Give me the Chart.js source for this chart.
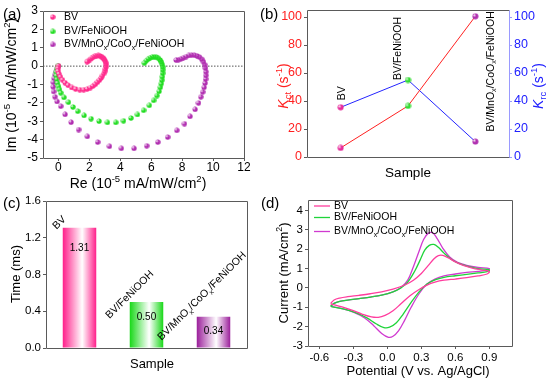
<!DOCTYPE html>
<html>
<head>
<meta charset="utf-8">
<script src="https://cdn.jsdelivr.net/npm/chart.js@4.4.1/dist/chart.umd.min.js"></script>
<style>
  body{margin:0;background:#fff;}
  #wrap{position:relative;width:550px;height:382px;overflow:hidden;font-family:"Liberation Sans",Arial,sans-serif;}
  canvas{position:absolute;}
  .lab{position:absolute;font-size:15px;line-height:15px;color:#000;}
</style>
</head>
<body>
<div id="wrap">
  <canvas id="cA" width="275" height="191" style="left:0;top:0"></canvas>
  <canvas id="cB" width="275" height="191" style="left:275px;top:0"></canvas>
  <canvas id="cC" width="275" height="191" style="left:0;top:191px"></canvas>
  <canvas id="cD" width="275" height="191" style="left:275px;top:191px"></canvas>
  <div class="lab" style="left:3px;top:6px">(a)</div>
  <div class="lab" style="left:260px;top:6px">(b)</div>
  <div class="lab" style="left:3px;top:195px">(c)</div>
  <div class="lab" style="left:261px;top:195px">(d)</div>
</div>
<script>
// ---- data ----
// (a) Nyquist-type plots, [Re, Im] in 10^-5 mA/mW/cm2
var nyqBV=[[0.00,0.02],[-0.05,-0.12],[-0.04,-0.27],[0.02,-0.42],[0.12,-0.58],[0.25,-0.74],[0.42,-0.9],[0.62,-1.04],[0.85,-1.16],[1.1,-1.24],[1.37,-1.28],[1.62,-1.28],[1.85,-1.24],[2.05,-1.17],[2.22,-1.08],[2.38,-0.98],[2.52,-0.87],[2.64,-0.76],[2.75,-0.64],[2.84,-0.52],[2.92,-0.4],[2.98,-0.28],[3.03,-0.16],[3.06,-0.04],[3.07,0.08],[3.05,0.19],[3.01,0.29],[2.95,0.38],[2.87,0.46],[2.78,0.52],[2.68,0.56],[2.57,0.58],[2.46,0.57],[2.35,0.54],[2.24,0.49],[2.13,0.43],[2.02,0.36],[1.92,0.3],[1.84,0.25]]
var nyqFe=[[-0.05,0.02],[-0.12,-0.15],[-0.15,-0.33],[-0.15,-0.52],[-0.12,-0.72],[-0.07,-0.92],[0.0,-1.1],[0.06,-1.27],[0.14,-1.45],[0.35,-1.7],[0.64,-1.96],[0.93,-2.22],[1.24,-2.45],[1.65,-2.68],[2.1,-2.86],[2.62,-2.99],[3.16,-3.06],[3.7,-3.06],[4.2,-2.97],[4.68,-2.82],[5.1,-2.63],[5.5,-2.4],[5.87,-2.13],[6.15,-1.86],[6.36,-1.6],[6.5,-1.37],[6.58,-1.15],[6.64,-0.95],[6.68,-0.76],[6.71,-0.57],[6.73,-0.38],[6.74,-0.2],[6.73,-0.04],[6.7,0.1],[6.65,0.23],[6.57,0.34],[6.46,0.43],[6.33,0.49],[6.19,0.51],[6.05,0.5],[5.91,0.45],[5.78,0.38],[5.66,0.29],[5.55,0.18]]
var nyqMn=[[-0.02,0.0],[-0.08,-0.12],[-0.16,-0.28],[-0.24,-0.46],[-0.3,-0.66],[-0.34,-0.88],[-0.35,-1.12],[-0.32,-1.38],[-0.24,-1.66],[-0.1,-1.92],[0.14,-2.18],[0.42,-2.62],[0.81,-3.05],[1.3,-3.45],[1.86,-3.82],[2.53,-4.13],[3.29,-4.36],[4.06,-4.47],[4.88,-4.47],[5.7,-4.33],[6.42,-4.13],[7.06,-3.86],[7.65,-3.49],[8.14,-3.13],[8.5,-2.73],[8.83,-2.35],[9.05,-2.0],[9.2,-1.67],[9.32,-1.4],[9.41,-1.15],[9.47,-0.92],[9.51,-0.7],[9.53,-0.5],[9.53,-0.3],[9.5,-0.1],[9.45,0.08],[9.37,0.24],[9.26,0.38],[9.12,0.49],[8.96,0.56],[8.78,0.6],[8.6,0.61],[8.42,0.58],[8.24,0.52],[8.06,0.45],[7.9,0.39],[7.74,0.35],[7.6,0.34]]
var ticksAx=[0,2,4,6,8,10,12]
var ticksAy=[-5,-4,-3,-2,-1,0,1,2,3]

// (b) rate constants, s^-1
var samples=['BV','BV/FeNiOOH','BV/MnO_{x}/CoO_{x}/FeNiOOH']
var kct=[6.5,36.5,100.5]
var krc=[35.5,55,11]
var ticksB=[0,20,40,60,80,100]

// (c) lifetime, ms
var tau=[1.31,0.50,0.34]
var ticksC=[0,0.4,0.8,1.2,1.6]

// (d) CV, [V, mA/cm2]
var cvBV=[[-0.5,-0.8],[-0.47,-0.62],[-0.42,-0.52],[-0.35,-0.45],[-0.25,-0.38],[-0.15,-0.3],[-0.05,-0.2],[0.05,-0.06],[0.15,0.14],[0.23,0.4],[0.3,0.75],[0.36,1.15],[0.41,1.5],[0.45,1.67],[0.49,1.68],[0.54,1.55],[0.6,1.35],[0.67,1.17],[0.75,1.03],[0.83,0.93],[0.9,0.85],[0.88,0.72],[0.8,0.62],[0.7,0.53],[0.6,0.46],[0.5,0.4],[0.42,0.3],[0.35,0.15],[0.28,-0.08],[0.2,-0.4],[0.12,-0.82],[0.05,-1.18],[-0.02,-1.42],[-0.08,-1.52],[-0.14,-1.5],[-0.22,-1.36],[-0.3,-1.17],[-0.4,-0.98],[-0.5,-0.82]]
var cvFe=[[-0.5,-0.95],[-0.47,-0.8],[-0.42,-0.7],[-0.35,-0.63],[-0.25,-0.55],[-0.15,-0.47],[-0.05,-0.37],[0.05,-0.2],[0.12,0.0],[0.18,0.3],[0.24,0.85],[0.29,1.45],[0.33,1.95],[0.37,2.2],[0.41,2.25],[0.45,2.1],[0.5,1.8],[0.56,1.5],[0.63,1.27],[0.71,1.12],[0.8,1.0],[0.9,0.93],[0.88,0.84],[0.8,0.78],[0.7,0.7],[0.6,0.63],[0.5,0.55],[0.42,0.42],[0.35,0.2],[0.28,-0.2],[0.21,-0.75],[0.14,-1.35],[0.08,-1.8],[0.02,-2.03],[-0.03,-2.05],[-0.1,-1.85],[-0.18,-1.55],[-0.28,-1.28],[-0.38,-1.1],[-0.5,-0.95]]
var cvMn=[[-0.5,-0.95],[-0.47,-0.8],[-0.42,-0.7],[-0.35,-0.63],[-0.25,-0.55],[-0.15,-0.47],[-0.05,-0.37],[0.05,-0.2],[0.12,0.02],[0.18,0.4],[0.23,1.1],[0.28,1.9],[0.32,2.5],[0.36,2.82],[0.4,2.85],[0.44,2.55],[0.49,2.05],[0.55,1.6],[0.62,1.32],[0.7,1.17],[0.8,1.06],[0.9,1.0],[0.88,0.92],[0.8,0.86],[0.7,0.8],[0.6,0.72],[0.5,0.62],[0.42,0.46],[0.35,0.2],[0.28,-0.3],[0.21,-1.0],[0.15,-1.7],[0.1,-2.2],[0.05,-2.5],[0.01,-2.55],[-0.05,-2.35],[-0.12,-1.95],[-0.2,-1.55],[-0.3,-1.25],[-0.4,-1.07],[-0.5,-0.95]]
var ticksDx=[-0.6,-0.3,0,0.3,0.6,0.9]
var ticksDy=[-3,-2,-1,0,1,2,3,4]

var seriesNames=['BV','BV/FeNiOOH','BV/MnO_{x}/CoO_{x}/FeNiOOH']

// ---- helpers ----
var FONT='"Liberation Sans", Arial, sans-serif'
var AX='#5a5a5a'
Chart.defaults.font.family=FONT
Chart.defaults.color='#000'
Chart.defaults.animation=false
Chart.defaults.plugins.legend.display=false
Chart.defaults.plugins.tooltip.enabled=false

//text with _{sub} ^{sup} *{italic}
function rich(ctx,str,x,y,size,o){
    o=o||{}
    var ps=[],re=/([_^*])\{([^}]*)\}/g,last=0,m
    while((m=re.exec(str))){
        if(m.index>last) ps.push({t:str.slice(last,m.index),k:''})
        ps.push({t:m[2],k:m[1]})
        last=re.lastIndex
    }
    if(last<str.length) ps.push({t:str.slice(last),k:''})
    var fontOf=function(p){
        var s=(p.k=='_'||p.k=='^')?size*0.68:size
        return (p.k=='*'?'italic ':'')+s+'px '+FONT
    }
    var w=0
    ps.forEach(function(p){ctx.font=fontOf(p);p.w=ctx.measureText(p.t).width;w+=p.w})
    ctx.save()
    ctx.translate(x,y)
    if(o.rot) ctx.rotate(o.rot)
    ctx.fillStyle=o.color||'#000'
    ctx.textBaseline=o.baseline||'middle'
    ctx.textAlign='left'
    var cx=o.align=='left'?0:(o.align=='right'?-w:-w/2)
    ps.forEach(function(p){
        ctx.font=fontOf(p)
        var dy=p.k=='_'?size*0.3:(p.k=='^'?-size*0.36:0)
        ctx.fillText(p.t,cx,dy)
        cx+=p.w
    })
    ctx.restore()
}

//small shaded ball used as point style
function ball(col,r){
    var c=document.createElement('canvas')
    c.width=c.height=2*r+1
    var g=c.getContext('2d')
    var gr=g.createRadialGradient(r*0.7,r*0.7,0.2,r+0.5,r+0.5,r+0.5)
    gr.addColorStop(0,'#ffffff')
    gr.addColorStop(0.45,col)
    gr.addColorStop(1,col)
    g.fillStyle=gr
    g.beginPath()
    g.arc(r+0.5,r+0.5,r,0,Math.PI*2)
    g.fill()
    return c
}

function frame(col,rightCol){
    return {id:'frame',afterDraw:function(ch){
        var a=ch.chartArea,c=ch.ctx
        var l=Math.round(a.left)+0.5,r=Math.round(a.right)+0.5,t=Math.round(a.top)+0.5,b=Math.round(a.bottom)+0.5
        c.save()
        c.lineWidth=1
        c.strokeStyle=col
        c.beginPath()
        c.moveTo(r,b);c.lineTo(l,b);c.lineTo(l,t);c.lineTo(r,t)
        c.stroke()
        c.strokeStyle=rightCol||col
        c.beginPath()
        c.moveTo(r,t);c.lineTo(r,b)
        c.stroke()
        c.restore()
    }}
}

function titles(list){
    return {id:'titles',afterDraw:function(ch){
        list.forEach(function(t){rich(ch.ctx,t.s,t.x,t.y,t.size,t)})
    }}
}

//x tick labels written out under the axis
function xLabels(vals,size,gap){
    return {id:'xLabels',afterDraw:function(ch){
        var xs=ch.scales.x,y=ch.chartArea.bottom+gap
        vals.forEach(function(v){rich(ch.ctx,String(v),xs.getPixelForValue(v),y,size)})
    }}
}

function linAxis(o){
    return {
        type:'linear',position:o.pos,min:o.min,max:o.max,
        border:{display:false},
        grid:{display:true,drawOnChartArea:false,tickLength:3,color:o.tickCol||AX},
        ticks:{display:!o.own,font:{size:o.size},color:o.color||'#000',padding:2,maxRotation:0,minRotation:0,autoSkip:false,
            callback:o.fmt||function(v){return String(v)}},
        afterBuildTicks:function(s){s.ticks=o.ticks.map(function(v){return {value:v}})},
        afterFit:function(s){if(o.w!=null) s.width=o.w;if(o.h!=null) s.height=o.h}
    }
}

var pink='#ff2a8c',green='#22dd22',purple='#b02db0'

// ---- (a) ----
var ballsA=[ball(pink,2.6),ball(green,2.6),ball(purple,2.6)]
function xy(arr){return arr.map(function(p){return {x:p[0],y:p[1]}})}

new Chart(document.getElementById('cA'),{
    type:'scatter',
    data:{datasets:[
        {data:xy(nyqBV),pointStyle:ballsA[0],pointRadius:2.6},
        {data:xy(nyqFe),pointStyle:ballsA[1],pointRadius:2.6},
        {data:xy(nyqMn),pointStyle:ballsA[2],pointRadius:2.6},
        {data:[{x:-1,y:0},{x:12,y:0}],showLine:true,pointRadius:0,borderColor:'#555',borderWidth:1,borderDash:[1.5,1.5]}
    ]},
    options:{
        responsive:false,devicePixelRatio:1,
        layout:{padding:{left:0,right:31,top:11,bottom:0}},
        scales:{
            x:linAxis({pos:'bottom',min:-1,max:12,ticks:ticksAx,own:true,size:12,h:33}),
            y:linAxis({pos:'left',min:-5,max:3,ticks:ticksAy,size:12,w:43})
        }
    },
    plugins:[frame(AX),xLabels(ticksAx,12,10),titles([
        {s:'Re (10^{-5} mA/mW/cm^{2})',x:138,y:184,size:14},
        {s:'Im (10^{-5} mA/mW/cm^{2})',x:12,y:85,size:14,rot:-Math.PI/2}
    ]),{id:'legA',afterDraw:function(ch){
        var c=ch.ctx,rows=[17,31.5,44.5]
        seriesNames.forEach(function(n,i){
            c.drawImage(ballsA[i],52.7-2.6-0.5,rows[i]-2.6-0.5)
            rich(c,n,64,rows[i],10.5,{align:'left'})
        })
    }}]
})

// ---- (b) ----
var ballsB=[ball('#e62a9a',3),ball('#33dd33',3),ball('#b030b0',3)]
new Chart(document.getElementById('cB'),{
    type:'line',
    data:{labels:samples,datasets:[
        {data:kct,yAxisID:'y',borderColor:'#ff2020',borderWidth:1,pointStyle:ballsB,pointRadius:3},
        {data:krc,yAxisID:'y1',borderColor:'#2424ff',borderWidth:1,pointStyle:ballsB,pointRadius:3}
    ]},
    options:{
        responsive:false,devicePixelRatio:1,
        layout:{padding:{left:0,right:0,top:10,bottom:0}},
        scales:{
            x:{type:'category',offset:true,border:{display:false},grid:{display:false},ticks:{display:false},
                afterFit:function(s){s.height=34}},
            y:linAxis({pos:'left',min:0,max:105,ticks:ticksB,size:12.5,color:'#ff2020',w:32}),
            y1:linAxis({pos:'right',min:0,max:105,ticks:ticksB,size:12.5,color:'#2020ff',tickCol:'#9a9aff',w:41})
        }
    },
    plugins:[frame(AX,'#9a9aff'),titles([
        {s:'Sample',x:133,y:173,size:13.5},
        {s:'*{K}_{ct} (s^{-1})',x:9,y:86,size:14,rot:-Math.PI/2,color:'#ff2020'},
        {s:'*{K}_{rc} (s^{-1})',x:264,y:86,size:14,rot:-Math.PI/2,color:'#2020ff'}
    ]),{id:'annB',afterDraw:function(ch){
        var xs=ch.scales.x,ys=ch.scales.y1,dx=[1,-10,16],dy=[-7,0,-10]
        samples.forEach(function(s,i){
            rich(ch.ctx,s,xs.getPixelForValue(i)+dx[i],ys.getPixelForValue(krc[i])+dy[i],10.5,{rot:-Math.PI/2,align:'left'})
        })
    }}]
})

// ---- (c) ----
var barCols=['#ff1f8a','#18d818','#9b1f9b']
new Chart(document.getElementById('cC'),{
    type:'bar',
    data:{labels:samples,datasets:[{
        data:tau,barPercentage:0.5,categoryPercentage:1,borderWidth:0,
        backgroundColor:function(ctx){
            var ch=ctx.chart,col=barCols[ctx.dataIndex]
            if(!ch.chartArea) return col
            var xs=ch.scales.x,cx=xs.getPixelForValue(ctx.dataIndex)
            var w=(xs.getPixelForValue(1)-xs.getPixelForValue(0))*0.5
            var g=ch.ctx.createLinearGradient(cx-w/2,0,cx+w/2,0)
            g.addColorStop(0,col)
            g.addColorStop(0.58,'#ffffff')
            g.addColorStop(1,col)
            return g
        }
    }]},
    options:{
        responsive:false,devicePixelRatio:1,
        layout:{padding:{left:0,right:28,top:10,bottom:0}},
        scales:{
            x:{type:'category',offset:true,border:{display:false},grid:{display:false},ticks:{display:false},
                afterFit:function(s){s.height=34}},
            y:linAxis({pos:'left',min:0,max:1.6,ticks:ticksC,size:11.5,w:46,fmt:function(v){return v.toFixed(1)}})
        }
    },
    plugins:[frame(AX),titles([
        {s:'Sample',x:152,y:173,size:13},
        {s:'Time (ms)',x:16,y:83,size:13,rot:-Math.PI/2}
    ]),{id:'annC',afterDraw:function(ch){
        var c=ch.ctx,meta=ch.getDatasetMeta(0)
        var dyVal=[21,15,14],lx=[-23,-37,-52],ly=[2,17,24]
        meta.data.forEach(function(b,i){
            rich(c,tau[i].toFixed(2),b.x,b.y+dyVal[i],10)
            rich(c,samples[i],b.x+lx[i],b.y+ly[i],10.5,{rot:-Math.PI/4,align:'left',baseline:'alphabetic'})
        })
    }}]
})

// ---- (d) ----
var cvCols=['#ff3d9e','#1fd43a','#d03ad0']
new Chart(document.getElementById('cD'),{
    type:'scatter',
    data:{datasets:[
        {data:xy(cvBV),showLine:true,pointRadius:0,borderColor:cvCols[0],borderWidth:1.3,tension:0.35},
        {data:xy(cvFe),showLine:true,pointRadius:0,borderColor:cvCols[1],borderWidth:1.3,tension:0.35},
        {data:xy(cvMn),showLine:true,pointRadius:0,borderColor:cvCols[2],borderWidth:1.3,tension:0.35}
    ]},
    options:{
        responsive:false,devicePixelRatio:1,
        layout:{padding:{left:0,right:38,top:7.5,bottom:0}},
        scales:{
            x:linAxis({pos:'bottom',min:-0.7,max:1.1,ticks:ticksDx,size:11.5,h:36,fmt:function(v){return v.toFixed(1)}}),
            y:linAxis({pos:'left',min:-3,max:4.55,ticks:ticksDy,size:11.5,w:33})
        }
    },
    plugins:[frame(AX),titles([
        {s:'Potential (V vs. Ag/AgCl)',x:143,y:180,size:13},
        {s:'Current (mA/cm^{2})',x:9,y:82,size:13,rot:-Math.PI/2}
    ]),{id:'legD',afterDraw:function(ch){
        var c=ch.ctx,rows=[15,26.5,40.5]
        seriesNames.forEach(function(n,i){
            c.save()
            c.strokeStyle=cvCols[i];c.lineWidth=1.3
            c.beginPath();c.moveTo(39,rows[i]);c.lineTo(55,rows[i]);c.stroke()
            c.restore()
            rich(c,n,59,rows[i],10.5,{align:'left'})
        })
    }}]
})
</script>
</body>
</html>
